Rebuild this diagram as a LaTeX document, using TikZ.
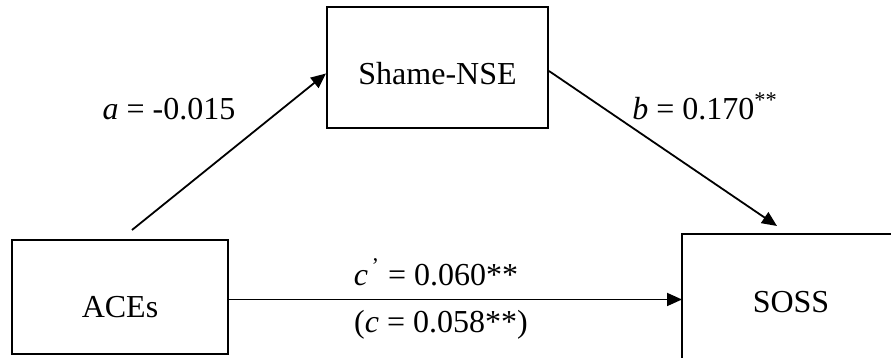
\documentclass[tikz,border=0pt]{standalone}
\usepackage{fontspec}
\setmainfont{Liberation Serif}
\usepackage{tikz}
\usetikzlibrary{arrows.meta, positioning, calc}

\begin{document}
\begin{tikzpicture}[x=0.5pt, y=0.5pt,
  font=\fontsize{16}{19}\selectfont,
  varbox/.style={draw, line width=1pt, inner sep=0pt, text height=39pt,
    minimum width=108pt, anchor=base},
  path/.style={line width=0.9pt, -{Triangle[length=7.5pt, width=6.5pt]}},
  coef/.style={anchor=base, inner sep=0pt}]
  \path[use as bounding box] (0,0) rectangle (891,358);
  % Variables
  \node[varbox, text depth=21.5pt, minimum width=110.5pt] (shame) at (437.5,273) {Shame-NSE};
  \node[varbox, text depth=18pt] (aces) at (120,40) {ACEs};
  \node[varbox, draw=none, text depth=22pt] (soss) at (791,45) {SOSS};
  % SOSS box runs off the page
  \draw[line width=1pt] (soss.west |- 0,0) -- (soss.north west) -- (soss.north west -| 891,0);
  % Paths
  \coordinate (astart) at ([xshift=6pt, yshift=4.5pt]aces.north);
  \coordinate (bend) at ([xshift=-7pt, yshift=4pt]soss.north);
  \coordinate (cstart) at ([yshift=-1.25pt]aces.east);
  \draw[path] (astart) -- ([yshift=-3pt]shame.west);
  \draw[path] ([yshift=-1.75pt]shame.east) -- (bend);
  \draw[path] (cstart) -- (cstart -| soss.west);
  % Coefficients
  \node[coef] (alab) at (169,238) {\textit{a} = -0.015};
  \node[coef] (blab) at (705,238) {\textit{b} = 0.170\textsuperscript{**}};
  \node[coef] (cplab) at (436,72) {\textit{c}\textsuperscript{\,'} = 0.060**};
  \node[coef] (clab) at (441,25) {(\textit{c} = 0.058**)};
\end{tikzpicture}
\end{document}
